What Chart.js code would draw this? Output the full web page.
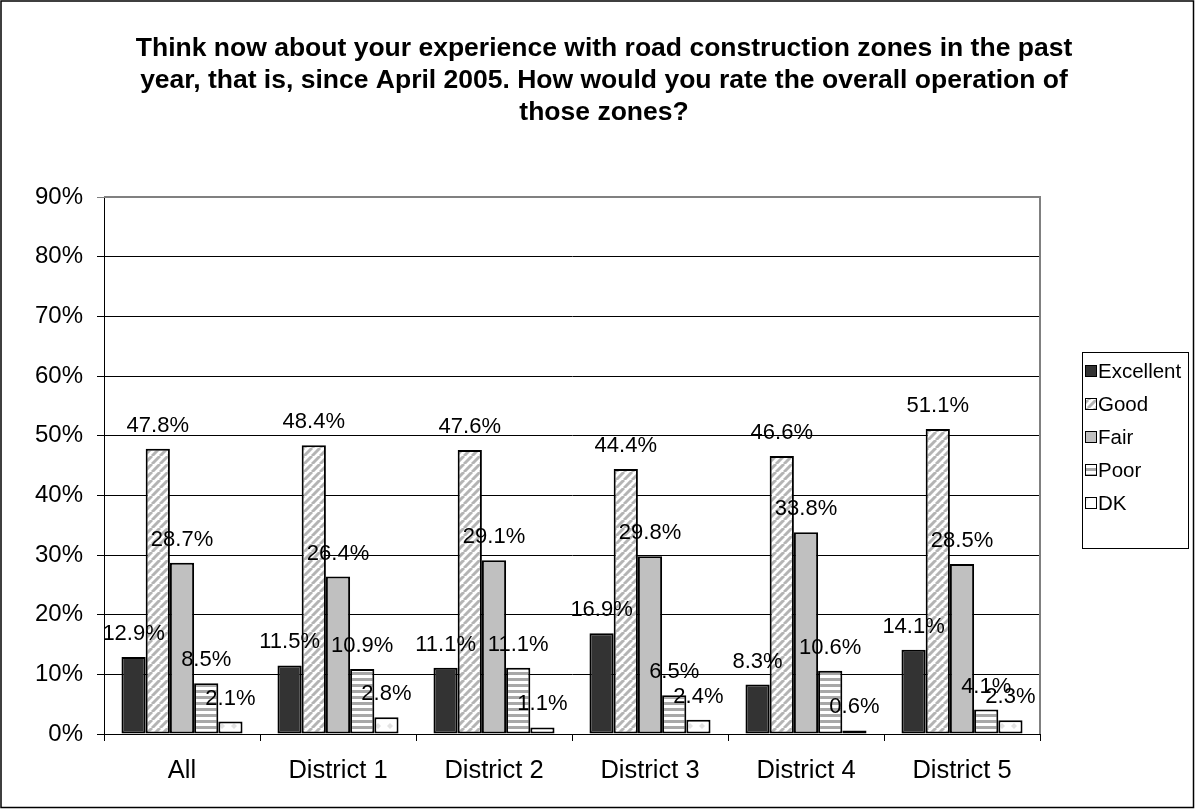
<!DOCTYPE html>
<html>
<head>
<meta charset="utf-8">
<script src="https://cdn.jsdelivr.net/npm/chart.js@4/dist/chart.umd.min.js"></script>
<style>
  body { margin: 0; background: #fff; }
  #wrap { width: 1195px; height: 809px; position: relative; }
</style>
</head>
<body>
<div id="wrap"><canvas id="mycanvas" width="1195" height="809"></canvas></div>
<script>
// data
var categories = ['All', 'District 1', 'District 2', 'District 3', 'District 4', 'District 5'];
var seriesNames = ['Excellent', 'Good', 'Fair', 'Poor', 'DK'];
var excellent = [12.9, 11.5, 11.1, 16.9, 8.3, 14.1];
var good = [47.8, 48.4, 47.6, 44.4, 46.6, 51.1];
var fair = [28.7, 26.4, 29.1, 29.8, 33.8, 28.5];
var poor = [8.5, 10.9, 11.1, 6.5, 10.6, 4.1];
var dk = [2.1, 2.8, 1.1, 2.4, 0.6, 2.3];
var yMax = 90, yStep = 10;
var titleLines = [
  'Think now about your experience with road construction zones in the past',
  'year, that is, since April 2005. How would you rate the overall operation of',
  'those zones?'
];

var FONT = "'Liberation Sans', Arial, sans-serif";

// fill patterns like the excel ones
function makePattern(size, draw) {
  var c = document.createElement('canvas');
  c.width = size; c.height = size;
  var g = c.getContext('2d');
  draw(g, size);
  return g.createPattern(c, 'repeat');
}
var diag = makePattern(8, function(g, s) {
  g.fillStyle = '#fff'; g.fillRect(0, 0, s, s);
  g.strokeStyle = '#b4b4b4'; g.lineWidth = 3;
  for (var k = -1; k <= 1; k++) {
    g.beginPath(); g.moveTo(k * s, s); g.lineTo(k * s + s, 0); g.stroke();
  }
});
var horiz = makePattern(6, function(g, s) {
  g.fillStyle = '#fff'; g.fillRect(0, 0, s, s);
  g.fillStyle = '#a8a8a8'; g.fillRect(0, 0, s, 3);
});
var dots = makePattern(12, function(g, s) {
  g.fillStyle = '#fff'; g.fillRect(0, 0, s, s);
  g.fillStyle = '#e2e2e2';
  g.beginPath(); g.moveTo(6, 3); g.lineTo(9, 6); g.lineTo(6, 9); g.lineTo(3, 6); g.closePath(); g.fill();
});
var fills = ['#333333', diag, '#c0c0c0', horiz, dots];
var values = [excellent, good, fair, poor, dk];

var datasets = [];
for (var i = 0; i < seriesNames.length; i++) {
  datasets.push({
    label: seriesNames[i],
    data: values[i],
    backgroundColor: fills[i],
    borderColor: '#000',
    borderWidth: 2,
    borderSkipped: false,
    categoryPercentage: 0.776,
    barPercentage: 1.0
  });
}

var extras = {
  id: 'extras',
  afterDatasetsDraw: function(chart) {
    var ctx = chart.ctx;
    ctx.save();
    ctx.font = '22px ' + FONT;
    ctx.fillStyle = '#000';
    ctx.textAlign = 'center';
    ctx.textBaseline = 'middle';
    chart.data.datasets.forEach(function(ds, di) {
      var meta = chart.getDatasetMeta(di);
      meta.data.forEach(function(el, j) {
        ctx.fillText(ds.data[j].toFixed(1) + '%', el.x, el.y - 23);
      });
    });
    ctx.restore();
  },
  afterDraw: function(chart) {
    var ctx = chart.ctx, a = chart.chartArea;
    ctx.save();
    // plot area border (grey top / right)
    ctx.strokeStyle = '#808080';
    ctx.lineWidth = 2;
    ctx.beginPath();
    ctx.moveTo(a.left, a.top); ctx.lineTo(a.right, a.top); ctx.lineTo(a.right, a.bottom);
    ctx.stroke();
    // title
    ctx.fillStyle = '#000';
    ctx.font = 'bold 26.5px ' + FONT;
    ctx.textAlign = 'center';
    ctx.textBaseline = 'alphabetic';
    titleLines.forEach(function(t, k) {
      ctx.fillText(t, 604, 56 + k * 32);
    });
    // legend
    var lx = 1082, ly = 352, lw = 106, lh = 196;
    ctx.strokeStyle = '#000';
    ctx.lineWidth = 1;
    ctx.strokeRect(lx + 0.5, ly + 0.5, lw, lh);
    ctx.font = '20.5px ' + FONT;
    ctx.textAlign = 'left';
    ctx.textBaseline = 'middle';
    chart.data.datasets.forEach(function(ds, k) {
      var yy = ly + 19 + k * 33;
      ctx.fillStyle = ds.backgroundColor;
      ctx.fillRect(lx + 3, yy - 6, 12, 12);
      ctx.strokeRect(lx + 3.5, yy - 5.5, 11, 11);
      ctx.fillStyle = '#000';
      ctx.fillText(ds.label, lx + 16, yy + 1);
    });
    // outer frame
    ctx.strokeStyle = '#000';
    ctx.lineWidth = 1.5;
    ctx.strokeRect(1, 1, chart.width - 2.5, chart.height - 2.5);
    ctx.restore();
  }
};

var ctx = document.getElementById('mycanvas');
var barGraph = new Chart(ctx, {
  type: 'bar',
  data: { labels: categories, datasets: datasets },
  options: {
    responsive: false,
    animation: false,
    devicePixelRatio: 1,
    layout: { padding: { top: 197, right: 155, bottom: 0, left: 0 } },
    plugins: { legend: { display: false }, title: { display: false }, tooltip: { enabled: false } },
    scales: {
      x: {
        grid: { offset: true, drawOnChartArea: false, drawTicks: true, tickLength: 7, color: '#000' },
        border: { color: '#000', width: 1 },
        ticks: { color: '#000', font: { family: FONT, size: 25.5 }, padding: 15 },
        afterFit: function(s) { s.height = 75; }
      },
      y: {
        min: 0, max: yMax,
        grid: {
          color: function(c) { return c.tick && c.tick.value === yMax ? '#808080' : '#000'; },
          lineWidth: 1, tickLength: 7
        },
        border: { color: '#000', width: 1 },
        ticks: {
          stepSize: yStep, color: '#000', padding: 14,
          font: { family: FONT, size: 24 },
          callback: function(v) { return v + '%'; }
        },
        afterFit: function(s) { s.width = 104; }
      }
    }
  },
  plugins: [extras]
});
</script>
</body>
</html>
